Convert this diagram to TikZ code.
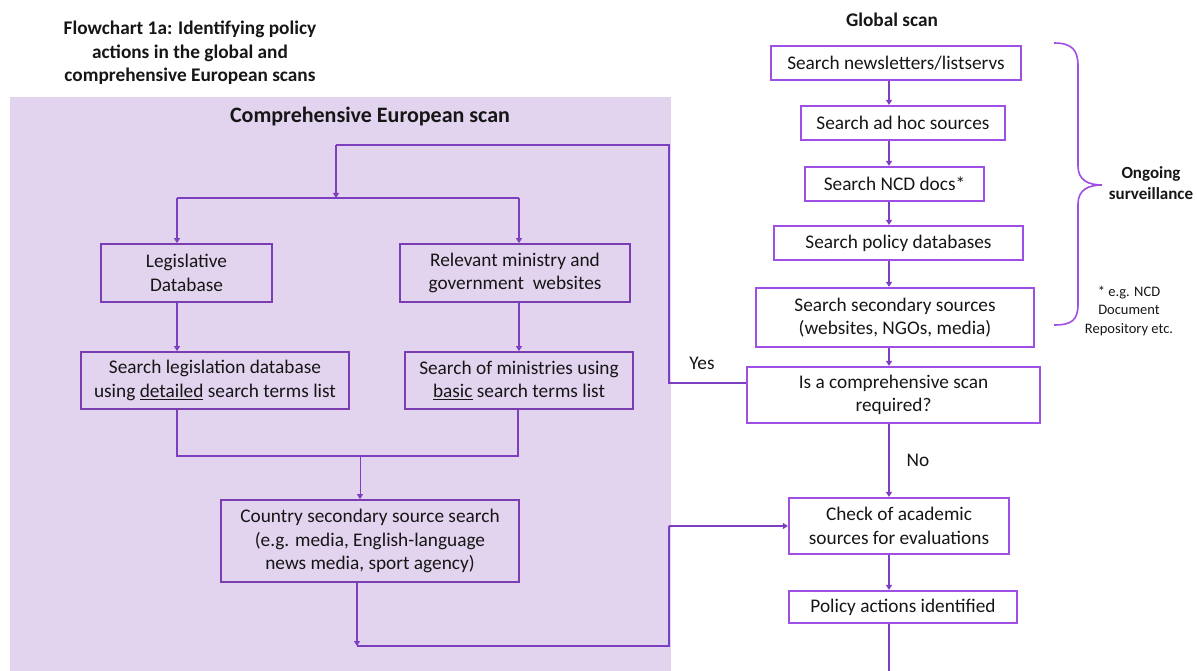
\documentclass[tikz,border=0pt]{standalone}
\usepackage{fontspec}
\setmainfont{Carlito}
\usetikzlibrary{arrows.meta}
\definecolor{panelC}{HTML}{E2D4EE}
\definecolor{lbord}{HTML}{7A3DB2}
\definecolor{rbord}{HTML}{A04FE6}
\definecolor{lineC}{HTML}{7B3FBF}
\definecolor{txtC}{HTML}{161616}
\begin{document}
\begin{tikzpicture}[x=1pt,y=-1pt,
  basebox/.style={inner sep=0pt,align=center,text=txtC,font=\fontsize{19.3}{23.5}\selectfont},
  lbox/.style={basebox,draw=lbord,line width=1.8pt},
  rbox/.style={basebox,draw=rbord,line width=2.2pt},
  conn/.style={draw=lineC,line width=1.4pt},
  arr/.style={conn,-{Triangle[width=6pt,length=5pt]}},
  lbl/.style={inner sep=0pt,align=center,text=txtC,font=\fontsize{19.3}{23.5}\selectfont},
  heading/.style={inner sep=0pt,align=center,text=txtC,font=\bfseries\fontsize{19.3}{23.5}\selectfont},
]
\useasboundingbox (0,0) rectangle (1197,671);
% panel
\fill[panelC] (10,97) rectangle (671,680);

% titles
\node[heading,font=\bfseries\fontsize{19.3}{23.5}\selectfont] (title) at (190,53) {Flowchart 1a: Identifying policy\\actions in the global and\\comprehensive European scans};
\node[heading,font=\bfseries\fontsize{22}{26}\selectfont] (ceu) at (370,117) {Comprehensive European scan};
\node[heading] (gs) at (892,20) {Global scan};

% right column
\node[rbox,minimum width=250pt,minimum height=34pt] (b1) at (896,63) {Search newsletters/listservs};
\node[rbox,minimum width=204pt,minimum height=34pt] (b2) at (903,123) {Search ad hoc sources};
\node[rbox,minimum width=179pt,minimum height=34pt] (b3) at (894.5,184) {Search NCD docs*};
\node[rbox,minimum width=249pt,minimum height=34pt] (b4) at (898.5,243) {Search policy databases};
\node[rbox,minimum width=278pt,minimum height=59pt] (b5) at (895,317.5) {Search secondary sources\\(websites, NGOs, media)};
\node[rbox,minimum width=293pt,minimum height=56pt] (dec) at (893.5,395) {Is a comprehensive scan\\required?};
\node[rbox,minimum width=220pt,minimum height=56pt] (chk) at (899,526) {Check of academic\\sources for evaluations};
\node[rbox,minimum width=228pt,minimum height=32pt] (pol) at (903,607) {Policy actions identified};

\coordinate (rc) at (889,0);
\draw[arr] (b1.south -| rc) -- (b2.north -| rc);
\draw[arr] (b2.south -| rc) -- (b3.north -| rc);
\draw[arr] (b3.south -| rc) -- (b4.north -| rc);
\draw[arr] (b4.south -| rc) -- (b5.north -| rc);
\draw[arr] (b5.south -| rc) -- (dec.north -| rc);
\draw[arr] (dec.south -| rc) -- (chk.north -| rc);
\draw[arr] (chk.south -| rc) -- (pol.north -| rc);
\coordinate (bot) at (889,677);
\draw[arr] (pol.south -| rc) -- (bot);

\node[lbl] (no) at (918,460) {No};
\node[lbl] (yes) at (702,363) {Yes};

% brace
\draw[draw=rbord,line width=1.6pt] (1054,43) .. controls (1072,43) and (1078,50) .. (1078,66) -- (1078,166) .. controls (1078,180) and (1088,185) .. (1102,185) .. controls (1088,185) and (1078,190) .. (1078,204) -- (1078,304) .. controls (1078,320) and (1072,325) .. (1054,325);
\node[heading,font=\bfseries\fontsize{17}{20.5}\selectfont] (ong) at (1151,183) {Ongoing\\surveillance};
\node[lbl,font=\fontsize{14.5}{18.5}\selectfont] (note) at (1129,311) {* e.g. NCD\\Document\\Repository etc.};

% left column
\node[lbox,minimum width=171pt,minimum height=58pt] (leg) at (186.5,273) {Legislative\\Database};
\node[lbox,minimum width=230pt,minimum height=58pt] (rel) at (515,273) {Relevant ministry and\\government \ websites};
\node[lbox,minimum width=268pt,minimum height=57pt] (sleg) at (215,380.5) {Search legislation database\\using \underline{detailed} search terms list};
\node[lbox,minimum width=228pt,minimum height=57pt] (smin) at (519,380.5) {Search of ministries using\\\underline{basic} search terms list};
\node[lbox,minimum width=298pt,minimum height=82pt] (ctry) at (370,541) {Country secondary source search\\(e.g. media, English-language\\news media, sport agency)};

\coordinate (lx) at (177,0);
\coordinate (rx) at (519,0);
\coordinate (yy) at (669,383);
\coordinate (tr) at (669,145);
\coordinate (tl) at (336,145);
\coordinate (br) at (336,198);
\coordinate (bl) at (177,198);
\coordinate (brr) at (519,198);
\coordinate (ml) at (177,456);
\coordinate (mr) at (518,456);
\coordinate (mc) at (360,456);
\coordinate (cb) at (357,646);
\coordinate (cr) at (669,646);
\coordinate (cu) at (669,526);

% loop from decision
\draw[conn] (yy -| dec.west) -- (yy) -- (tr) -- (tl);
\draw[arr] (tl) -- (br);
\draw[conn] (bl) -- (brr);
\draw[arr] (bl) -- (leg.north -| lx);
\draw[arr] (brr) -- (rel.north -| rx);
\draw[arr] (leg.south -| lx) -- (sleg.north -| lx);
\draw[arr] (rel.south -| rx) -- (smin.north -| rx);
\draw[conn] (sleg.south -| lx) -- (ml) -- (mr) -- (smin.south -| mr);
\draw[arr,line width=0.9pt] (mc) -- (ctry.north -| mc);
\draw[arr] (ctry.south -| cb) -- (cb);
\draw[conn] (cb) -- (cr) -- (cu);
\draw[arr] (cu) -- (chk.west |- cu);
\end{tikzpicture}
\end{document}
